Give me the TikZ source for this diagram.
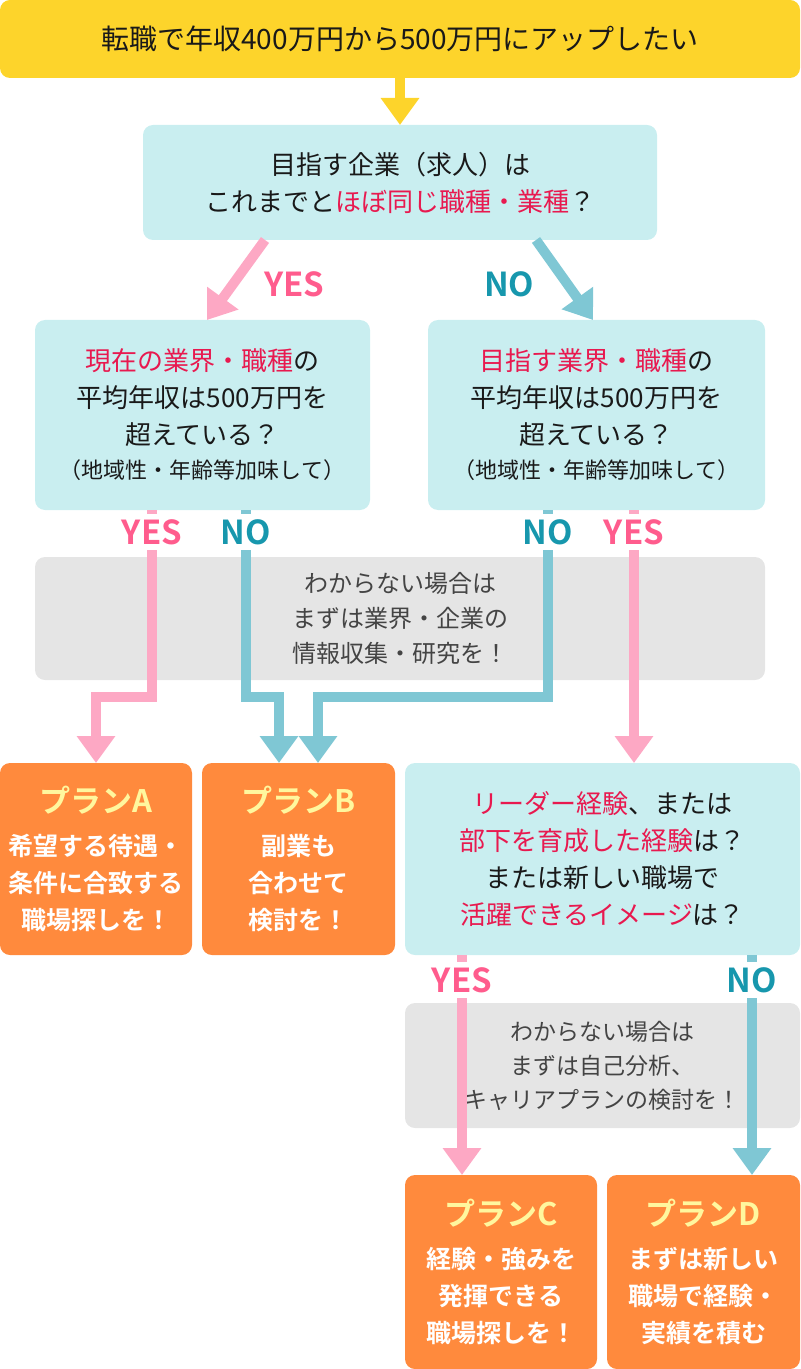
\documentclass[tikz,border=0pt]{standalone}
\usepackage{fontspec}
\setmainfont{Noto Sans CJK JP}[BoldFont={* Bold}]
\usetikzlibrary{arrows.meta, positioning}
\definecolor{wishbg}{HTML}{FDD42B}
\definecolor{askbg}{HTML}{C9EEF0}
\definecolor{notebg}{HTML}{E5E5E5}
\definecolor{notetext}{HTML}{444444}
\definecolor{planbg}{HTML}{FF8A3D}
\definecolor{plantitle}{HTML}{FFF79E}
\definecolor{keyred}{HTML}{E8194F}
\definecolor{yesarrow}{HTML}{FDA8C4}
\definecolor{yestext}{HTML}{FF5C8D}
\definecolor{noarrow}{HTML}{7FC7D4}
\definecolor{notext}{HTML}{1797AD}
\newcommand{\hl}[1]{\textcolor{keyred}{#1}}
\newcommand{\plantag}[1]{{\fontsize{15.5}{18}\selectfont\textcolor{plantitle}{#1}}}
\newcommand{\aside}[1]{{\fontsize{11}{14}\selectfont #1}}
\tikzstyle{flow}=[x=0.5pt, y=-0.5pt, >={Triangle[length=13.5pt,width=18.5pt]}, line join=miter]
\tikzstyle{box}=[rounded corners=5pt, inner sep=0pt, outer sep=0pt, align=center]
\tikzstyle{ask}=[box, fill=askbg, text=black!90, font=\fontsize{13}{18.5}\selectfont]
\tikzstyle{note}=[box, fill=notebg, text=notetext, font=\fontsize{12}{17.5}\selectfont]
\tikzstyle{plan}=[box, fill=planbg, text=white, font=\bfseries\fontsize{12.5}{18.5}\selectfont, minimum width=96pt, minimum height=96pt]
\tikzstyle{yesline}=[->, draw=yesarrow, line width=5pt]
\tikzstyle{noline}=[->, draw=noarrow, line width=5pt]
\tikzstyle{yeslabel}=[fill=white, text=yestext, inner xsep=1pt, inner ysep=2.5pt, font=\bfseries\fontsize{16.5}{16.5}\selectfont]
\tikzstyle{nolabel}=[yeslabel, text=notext]

\begin{document}
\begin{tikzpicture}[flow]
  \useasboundingbox (0,0) rectangle (800,1369);
  \node[box, fill=wishbg, text=black!90, minimum width=400pt, minimum height=39pt, font=\fontsize{14}{14}\selectfont] (wish) at (400,39) {転職で年収400万円から500万円にアップしたい};
  \node[ask, minimum width=257pt, minimum height=57.5pt] (same) [below=23.5pt of wish] {目指す企業（求人）は\\これまでと\hl{ほぼ同じ職種・業種}？};
  \node[ask, minimum width=167.5pt, minimum height=95pt] (cur) at (202.5,415) {\hl{現在の業界・職種}の\\平均年収は500万円を\\超えている？\\[-1.5pt]\aside{（地域性・年齢等加味して）}};
  \node[ask, minimum width=168.5pt, minimum height=95pt] (tgt) at (596.5,415) {\hl{目指す業界・職種}の\\平均年収は500万円を\\超えている？\\[-1.5pt]\aside{（地域性・年齢等加味して）}};
  \node[note, minimum width=365pt, minimum height=61.5pt] (info) at (400,618.5) {わからない場合は\\まずは業界・企業の\\情報収集・研究を！};
  \node[plan] (pa) at (96,859) {\plantag{プランA}\\[3pt]希望する待遇・\\条件に合致する\\職場探しを！};
  \node[plan, minimum width=96.5pt] (pb) [right=5pt of pa] {\plantag{プランB}\\[3pt]副業も\\合わせて\\検討を！};
  \node[ask, minimum width=197.5pt, minimum height=96pt] (lead) [right=5pt of pb] {\hl{リーダー経験}、または\\\hl{部下を育成した経験}は？\\または新しい職場で\\\hl{活躍できるイメージ}は？};
  \node[note, minimum width=197.5pt, minimum height=62.5pt, font=\fontsize{11.5}{17}\selectfont] (self) [below=24pt of lead] {わからない場合は\\まずは自己分析、\\キャリアプランの検討を！};
  \node[plan, minimum height=97pt] (pc) [below=23.5pt of self.south west, anchor=north west] {\plantag{プランC}\\[3pt]経験・強みを\\発揮できる\\職場探しを！};
  \node[plan, minimum width=96.5pt, minimum height=97pt] (pd) [right=5pt of pc] {\plantag{プランD}\\[3pt]まずは新しい\\職場で経験・\\実績を積む};

  \draw[->, draw=wishbg, line width=5pt] (wish) -- (same);
  \draw[yesline] ([xshift=-67.5pt]same.south) -- node[yeslabel, pos=.55, right=12pt] (y1) {YES} ([xshift=2.25pt]cur.north);
  \draw[noline] ([xshift=68pt]same.south) -- node[nolabel, pos=.55, left=13pt] (n1) {NO} ([xshift=-1.75pt]tgt.north);
  \draw[yesline] ([xshift=-25.25pt]cur.south) -- node[yeslabel, pos=.118] (y2) {YES} ++(0,187) -| (pa.north);
  \draw[noline] ([xshift=21.75pt]cur.south) -- node[nolabel, pos=.118] (n2) {NO} ++(0,187) -| ([xshift=-9.75pt]pb.north);
  \draw[noline] ([xshift=-24.25pt]tgt.south) -- node[nolabel, pos=.118] (n3) {NO} ++(0,187) -| ([xshift=9.75pt]pb.north);
  \draw[yesline] ([xshift=18.75pt]tgt.south) -- node[yeslabel, pos=.087] (y3) {YES} ([xshift=18.75pt]tgt.south |- lead.north);
  \draw[yesline] ([xshift=-70.25pt]lead.south) -- node[yeslabel, pos=.114] (y4) {YES} ([xshift=-70.25pt]lead.south |- pc.north);
  \draw[noline] ([xshift=74.75pt]lead.south) -- node[nolabel, pos=.114] (n4) {NO} ([xshift=74.75pt]lead.south |- pd.north);
\end{tikzpicture}
\end{document}
